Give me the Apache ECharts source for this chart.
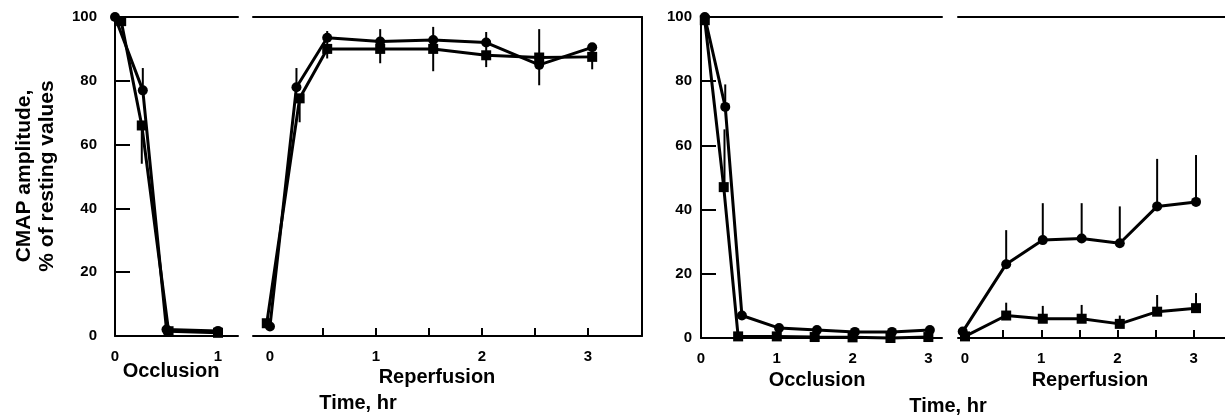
<!DOCTYPE html>
<html>
<head>
<meta charset="utf-8">
<script src="https://cdn.jsdelivr.net/npm/echarts@6.0.0/dist/echarts.min.js"></script>
<style>
html, body { margin: 0; padding: 0; background: #fff; }
#main { width: 1225px; height: 415px; }
</style>
</head>
<body>
<div id="main"></div>
<script>
// values: [time (hr), CMAP %]
var occLeftCircle = [[0, 100], [0.27, 77], [0.5, 2], [1, 1.6]];
var occLeftSquare = [[0.06, 98.7], [0.26, 66], [0.52, 1.5], [1, 1]];
var occLeftErr = [[0.27, 77, 84], [0.26, 54, 66]];

var repLeftCircle = [[0, 3], [0.25, 78], [0.54, 93.5], [1.04, 92.3], [1.54, 92.8], [2.04, 92], [2.54, 85], [3.04, 90.5]];
var repLeftSquare = [[-0.03, 4], [0.28, 74.5], [0.54, 90], [1.04, 90], [1.54, 90], [2.04, 88], [2.54, 87.3], [3.04, 87.5]];
var repLeftErr = [[0.25, 78, 84], [0.28, 67, 74.5], [0.54, 87, 95.6], [1.04, 85.5, 96.2], [1.54, 83, 96.9],
    [2.04, 84.3, 95.3], [2.54, 78.6, 96.2], [3.04, 83.6, 91.8]];

var occRightCircle = [[0.05, 100], [0.32, 72], [0.54, 7], [1.03, 3.1], [1.53, 2.5], [2.03, 1.9], [2.52, 1.9], [3.02, 2.5]];
var occRightSquare = [[0.05, 99], [0.3, 47], [0.49, 0.5], [1.0, 0.5], [1.5, 0.3], [2.0, 0.2], [2.5, 0], [3.0, 0.3]];
var occRightErr = [[0.32, 72, 79], [0.31, 47, 65]];

var repRightCircle = [[-0.03, 2], [0.54, 23], [1.02, 30.5], [1.53, 31], [2.03, 29.5], [2.52, 41], [3.03, 42.4]];
var repRightSquare = [[0, 0.5], [0.54, 7], [1.02, 6], [1.53, 6], [2.03, 4.4], [2.52, 8.2], [3.03, 9.3]];
var repRightErr = [[0.54, 23, 33.6], [1.02, 30.5, 42], [1.53, 31, 42], [2.03, 29.5, 41], [2.52, 41, 55.8], [3.03, 42.4, 57],
    [0.54, 7, 11], [1.02, 6, 10], [1.53, 6, 10.3], [2.03, 4.4, 7], [2.52, 8.2, 13.4], [3.03, 9.3, 14]];

var yTicks = [0, 20, 40, 60, 80, 100];
var hourLabels = [0, 1, 2, 3];
var halfHourTicks = [0.5, 1, 1.5, 2, 2.5, 3];

var dom = document.getElementById('main');
var myChart = echarts.init(dom);

var font = 'Liberation Sans, Arial, sans-serif';
var black = '#000';
var lineAx = { show: true, onZero: false, lineStyle: { color: black, width: 2 } };
var tickLabel = { color: black, fontFamily: font, fontSize: 15, fontWeight: 'bold' };

function bottomAxis(grid, min, max, labels, ticks) {
    return {
        type: 'value', gridIndex: grid, min: min, max: max, position: 'bottom',
        axisLine: lineAx,
        axisTick: ticks ? { show: true, inside: true, length: 8, customValues: ticks, lineStyle: { color: black, width: 2 } } : { show: false },
        axisLabel: Object.assign({ margin: 13, customValues: labels }, tickLabel),
        splitLine: { show: false }
    };
}
function topAxis(grid, min, max) {
    return {
        type: 'value', gridIndex: grid, min: min, max: max, position: 'top',
        axisLine: lineAx, axisTick: { show: false }, axisLabel: { show: false }, splitLine: { show: false }
    };
}
function leftAxis(grid, margin) {
    return {
        type: 'value', gridIndex: grid, min: 0, max: 100, interval: 20, position: 'left',
        axisLine: lineAx,
        axisTick: { show: true, inside: true, length: 15, lineStyle: { color: black, width: 2 } },
        axisLabel: Object.assign({ margin: margin, customValues: yTicks }, tickLabel),
        splitLine: { show: false }
    };
}
function hiddenY(grid, pos, showLine) {
    return {
        type: 'value', gridIndex: grid, min: 0, max: 100, position: pos,
        axisLine: showLine ? lineAx : { show: false },
        axisTick: { show: false }, axisLabel: { show: false }, splitLine: { show: false }
    };
}
function lineSeries(data, sym, xi, yi) {
    return {
        type: 'line', data: data, xAxisIndex: xi, yAxisIndex: yi,
        symbol: sym, symbolSize: 10,
        lineStyle: { color: black, width: 3 }, itemStyle: { color: black },
        animation: false, clip: false, z: 3
    };
}
function errSeries(data, xi, yi) {
    return {
        type: 'custom', data: data, xAxisIndex: xi, yAxisIndex: yi,
        encode: { x: 0, y: [1, 2] }, animation: false, z: 2,
        renderItem: function (params, api) {
            var a = api.coord([api.value(0), api.value(1)]);
            var b = api.coord([api.value(0), api.value(2)]);
            return { type: 'line', shape: { x1: a[0], y1: a[1], x2: b[0], y2: b[1] }, style: { stroke: black, lineWidth: 2 } };
        }
    };
}
function label(text, x, y, rot, size) {
    return {
        type: 'text', x: x, y: y, rotation: rot || 0,
        style: { text: text, font: 'bold ' + (size || 20) + 'px ' + font, fill: black, textAlign: 'center', textVerticalAlign: 'middle', lineHeight: 23 }
    };
}

option = {
    backgroundColor: '#fff',
    animation: false,
    grid: [
        { left: 115, top: 17, width: 123, height: 319, outerBoundsMode: 'none' },
        { left: 253, top: 17, width: 389, height: 319, outerBoundsMode: 'none' },
        { left: 701, top: 17, width: 241, height: 321, outerBoundsMode: 'none' },
        { left: 958, top: 17, width: 267, height: 321, outerBoundsMode: 'none' }
    ],
    xAxis: [
        bottomAxis(0, 0, 1.194, [0, 1], null),
        topAxis(0, 0, 1.194),
        bottomAxis(1, -0.16, 3.51, hourLabels, halfHourTicks),
        topAxis(1, -0.16, 3.51),
        bottomAxis(2, 0, 3.18, hourLabels, null),
        topAxis(2, 0, 3.18),
        bottomAxis(3, -0.092, 3.41, hourLabels, halfHourTicks),
        topAxis(3, -0.092, 3.41)
    ],
    yAxis: [
        leftAxis(0, 18),
        hiddenY(1, 'left', false),
        hiddenY(1, 'right', true),
        leftAxis(2, 9),
        hiddenY(3, 'left', false)
    ],
    series: [
        errSeries(occLeftErr, 0, 0),
        lineSeries(occLeftCircle, 'circle', 0, 0),
        lineSeries(occLeftSquare, 'rect', 0, 0),
        errSeries(repLeftErr, 2, 1),
        lineSeries(repLeftCircle, 'circle', 2, 1),
        lineSeries(repLeftSquare, 'rect', 2, 1),
        errSeries(occRightErr, 4, 3),
        lineSeries(occRightCircle, 'circle', 4, 3),
        lineSeries(occRightSquare, 'rect', 4, 3),
        errSeries(repRightErr, 6, 4),
        lineSeries(repRightCircle, 'circle', 6, 4),
        lineSeries(repRightSquare, 'rect', 6, 4)
    ],
    graphic: [
        label('CMAP amplitude,\n% of resting values', 36, 176, Math.PI / 2, 21),
        label('Occlusion', 171, 371),
        label('Reperfusion', 437, 377),
        label('Time, hr', 358, 403),
        label('Occlusion', 817, 380),
        label('Reperfusion', 1090, 380),
        label('Time, hr', 948, 406)
    ]
};
if (option && typeof option === "object") {
    myChart.setOption(option, true);
}
</script>
</body>
</html>
